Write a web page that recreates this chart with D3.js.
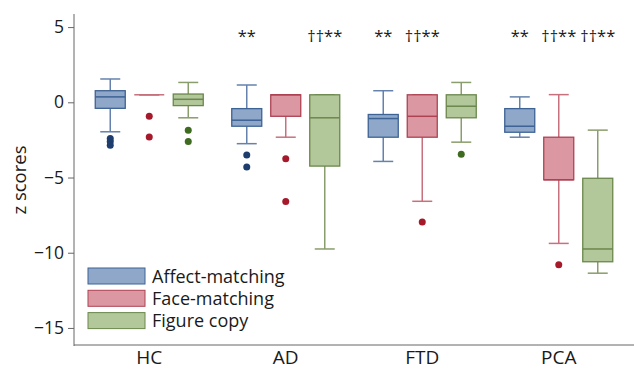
<!DOCTYPE html>
<html>
<head>
<meta charset="utf-8">
<script src="https://cdn.jsdelivr.net/npm/d3@7"></script>
<style>
  body { margin: 0; background: #fff; }
  svg text { font-family: "Open Sans", "Noto Sans", sans-serif; fill: #1a1a1a; }
</style>
</head>
<body>
<div class="canvas"></div>
<script>
const groups = ["HC", "AD", "FTD", "PCA"];
const tasks = ["Affect-matching", "Face-matching", "Figure copy"];

// [low whisker, q1, median, q3, high whisker] per group
const affectStats = [
  [-1.96, -0.4, 0.36, 0.77, 1.55],
  [-2.75, -1.59, -1.19, -0.42, 1.15],
  [-3.93, -2.32, -1.08, -0.81, 0.77],
  [-2.32, -1.99, -1.59, -0.42, 0.36]
];
const faceStats = [
  [0.5, 0.5, 0.5, 0.5, 0.5],
  [-2.32, -0.93, 0.5, 0.5, 0.5],
  [-6.58, -2.32, -0.93, 0.5, 0.5],
  [-9.38, -5.15, -5.15, -2.32, 0.51]
];
const figureStats = [
  [-1.03, -0.22, 0.2, 0.55, 1.32],
  [-9.75, -4.24, -1.03, 0.5, 0.5],
  [-2.65, -1.03, -0.26, 0.5, 1.32],
  [-11.36, -10.6, -9.75, -5.05, -1.85]
];

const affectOutliers = [[-2.4, -2.6, -2.85], [-3.5, -4.3], [], []];
const faceOutliers = [[-0.93, -2.3], [-3.75, -6.6], [-7.95], [-10.8]];
const figureOutliers = [[-1.85, -2.6], [], [-3.45], []];

const affectMarks = ["", "**", "**", "**"];
const faceMarks = ["", "", "††**", "††**"];
const figureMarks = ["", "††**", "", "††**"];

const yTicks = [5, 0, -5, -10, -15];

const styles = [
  { fill: "#8fa8c9", stroke: "#3d6294", whisker: "#6482ad", dot: "#1d3d6e" },
  { fill: "#dc98a2", stroke: "#ad4253", whisker: "#c7717e", dot: "#a5192b" },
  { fill: "#b2c79a", stroke: "#6b874c", whisker: "#8a9d6c", dot: "#3e6b1f" }
];

const width = 634;
const height = 371;

const svg = d3
  .select(".canvas")
  .append("svg")
  .attr("width", width)
  .attr("height", height);

const y = d3.scaleLinear().domain([-16.2, 5.87]).range([346, 14]);
const x = d3.scaleBand().domain(groups).range([81, 627]);
const inner = d3.scaleBand().domain(tasks).range([-58.5, 58.5]);
const boxWidth = 30;
const capWidth = 20;

// y axis
const yAxis = svg
  .append("g")
  .attr("transform", "translate(74,0)")
  .call(d3.axisLeft(y).tickValues(yTicks).tickSize(6).tickPadding(4)
    .tickFormat((d) => d3.format("")(d).replace("-", "\u2212")));
yAxis.select(".domain").attr("stroke", "#666").attr("d", "M0,14V346");
yAxis.selectAll(".tick line").attr("stroke", "#666");
yAxis.selectAll(".tick text").style("font-size", "17.5px").attr("fill", "#1a1a1a");

// x axis
const xAxis = svg
  .append("g")
  .attr("transform", "translate(0,345)")
  .call(d3.axisBottom(x).tickSize(0).tickPadding(5));
xAxis.select(".domain").attr("stroke", "#666").attr("d", "M74,0H634");
xAxis.selectAll(".tick text").style("font-size", "19px").attr("fill", "#1a1a1a");

svg
  .append("text")
  .attr("transform", "translate(26,180) rotate(-90)")
  .attr("text-anchor", "middle")
  .style("font-size", "18.5px")
  .text("z scores");

const allStats = [affectStats, faceStats, figureStats];
const allOutliers = [affectOutliers, faceOutliers, figureOutliers];
const allMarks = [affectMarks, faceMarks, figureMarks];

tasks.forEach((task, t) => {
  const st = styles[t];
  const items = groups.map((g, i) => ({
    group: g,
    stats: allStats[t][i],
    outliers: allOutliers[t][i],
    mark: allMarks[t][i],
    cx: x(g) + x.bandwidth() / 2 + inner(task) + inner.bandwidth() / 2
  }));

  const box = svg
    .append("g")
    .attr("class", "task")
    .selectAll("g")
    .data(items)
    .enter()
    .append("g");

  // whiskers
  box
    .append("line")
    .attr("x1", (d) => d.cx)
    .attr("x2", (d) => d.cx)
    .attr("y1", (d) => y(d.stats[4]))
    .attr("y2", (d) => y(d.stats[3]))
    .attr("stroke", st.whisker)
    .attr("stroke-width", 1.5);
  box
    .append("line")
    .attr("x1", (d) => d.cx)
    .attr("x2", (d) => d.cx)
    .attr("y1", (d) => y(d.stats[1]))
    .attr("y2", (d) => y(d.stats[0]))
    .attr("stroke", st.whisker)
    .attr("stroke-width", 1.5);
  [0, 4].forEach((k) => {
    box
      .append("line")
      .attr("x1", (d) => d.cx - capWidth / 2)
      .attr("x2", (d) => d.cx + capWidth / 2)
      .attr("y1", (d) => y(d.stats[k]))
      .attr("y2", (d) => y(d.stats[k]))
      .attr("stroke", st.whisker)
      .attr("stroke-width", 1.5);
  });

  box
    .append("rect")
    .attr("x", (d) => d.cx - boxWidth / 2)
    .attr("y", (d) => y(d.stats[3]))
    .attr("width", boxWidth)
    .attr("height", (d) => y(d.stats[1]) - y(d.stats[3]))
    .attr("fill", st.fill)
    .attr("stroke", st.stroke)
    .attr("stroke-width", (d) => (d.stats[1] === d.stats[3] ? 1.5 : 1.3));

  box
    .append("line")
    .attr("x1", (d) => d.cx - boxWidth / 2)
    .attr("x2", (d) => d.cx + boxWidth / 2)
    .attr("y1", (d) => y(d.stats[2]))
    .attr("y2", (d) => y(d.stats[2]))
    .attr("stroke", (d) => (d.stats[1] === d.stats[3] ? st.whisker : st.stroke))
    .attr("stroke-width", 1.5);

  box
    .selectAll("circle")
    .data((d) => d.outliers.map((v) => ({ v, cx: d.cx })))
    .enter()
    .append("circle")
    .attr("cx", (d) => d.cx)
    .attr("cy", (d) => y(d.v))
    .attr("r", 3.5)
    .attr("fill", st.dot);

  box
    .append("text")
    .attr("x", (d) => d.cx)
    .attr("y", 42)
    .attr("text-anchor", "middle")
    .style("font-size", "16.5px")
    .text((d) => d.mark);
});

// legend
const legend = svg
  .append("g")
  .selectAll("g")
  .data(tasks)
  .enter()
  .append("g")
  .attr("transform", (task, index) => `translate(88,${268 + index * 22.3})`);

legend
  .append("rect")
  .attr("width", 57)
  .attr("height", 16)
  .attr("fill", (task, index) => styles[index].fill)
  .attr("stroke", (task, index) => styles[index].stroke);

legend
  .append("text")
  .text((task) => task)
  .attr("x", 64)
  .attr("y", 14.5)
  .style("font-size", "18px");
</script>
</body>
</html>
